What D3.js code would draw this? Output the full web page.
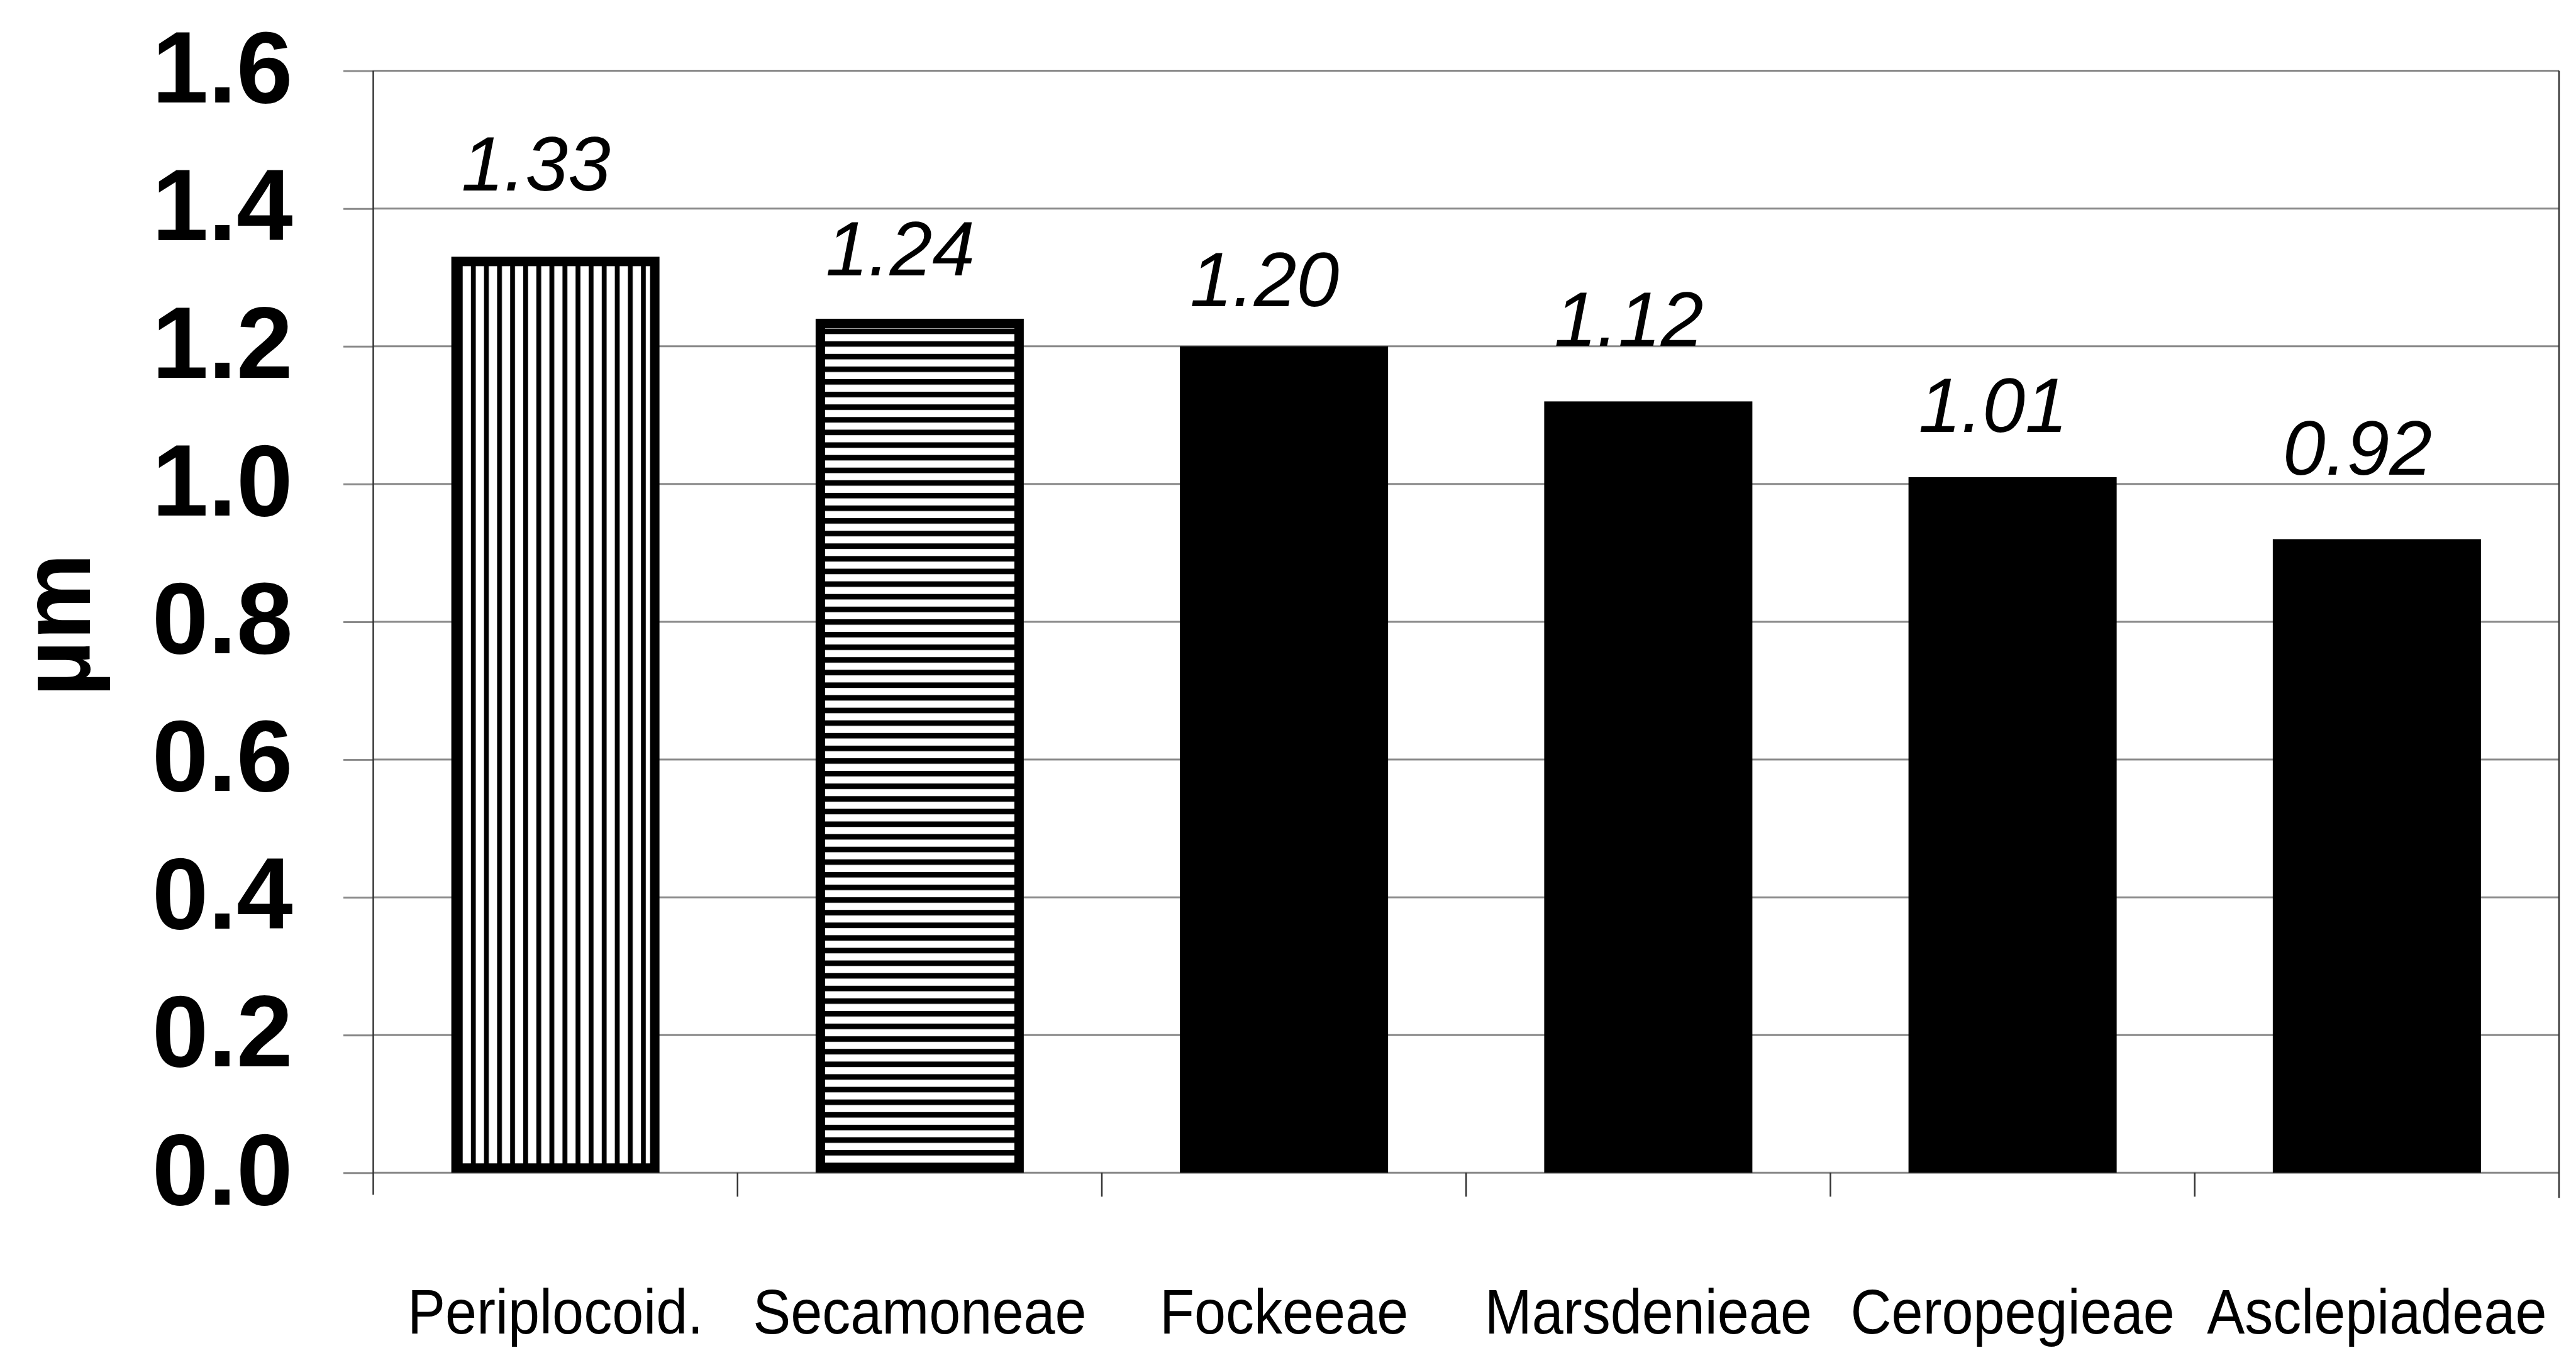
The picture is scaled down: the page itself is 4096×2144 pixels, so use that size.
<!DOCTYPE html>
<html>
<head>
<meta charset="utf-8">
<script src="https://cdn.jsdelivr.net/npm/d3@7"></script>
<style>
  html, body { margin: 0; padding: 0; background: #ffffff; }
  svg { display: block; }
  text { font-family: "Liberation Sans", Arial, Helvetica, sans-serif; fill: #000; }
</style>
</head>
<body>
<svg id="chart"></svg>
<script>
// ---------------- data ----------------
const categories = ["Periplocoid.", "Secamoneae", "Fockeeae", "Marsdenieae", "Ceropegieae", "Asclepiadeae"];
const values = [1.33, 1.24, 1.20, 1.12, 1.01, 0.92];
const valueLabels = ["1.33", "1.24", "1.20", "1.12", "1.01", "0.92"];
const yTicks = [0.0, 0.2, 0.4, 0.6, 0.8, 1.0, 1.2, 1.4, 1.6];
const yTitle = "µm";

// ---------------- layout / style ----------------
const W = 4096, H = 2144;
const plot = { left: 593.5, right: 4069, top: 112.6, bottom: 1865.3 };
const barFills = ["url(#vstripe)", "url(#hstripe)", "#000", "#000", "#000", "#000"];
const barBorder = [15, 15, 0, 0, 0, 0];
const labelGap = [105, 69, 64, 88, 72, 102];   // baseline distance above bar top
const labelShiftX = -31;
const gridColor = "#8a8a8a";
const axisColor = "#333";

const svg = d3.select("#chart").attr("width", W).attr("height", H);
svg.append("rect").attr("width", W).attr("height", H).attr("fill", "#fff");

const defs = svg.append("defs");
const vp = defs.append("pattern").attr("id", "vstripe")
  .attr("patternUnits", "userSpaceOnUse").attr("width", 20.8).attr("height", 10);
vp.append("rect").attr("width", 20.8).attr("height", 10).attr("fill", "#fff");
vp.append("rect").attr("x", 0).attr("width", 7.7).attr("height", 10).attr("fill", "#000");
const hp = defs.append("pattern").attr("id", "hstripe")
  .attr("patternUnits", "userSpaceOnUse").attr("width", 10).attr("height", 20.1);
hp.append("rect").attr("width", 10).attr("height", 20.1).attr("fill", "#fff");
hp.append("rect").attr("y", 0).attr("width", 10).attr("height", 8.8).attr("fill", "#000");

const x = d3.scaleBand().domain(categories)
  .range([plot.left, plot.right])
  .paddingInner(0.75 / 1.75).paddingOuter(0.75 / 3.5);
const y = d3.scaleLinear().domain([0, 1.6]).range([plot.bottom, plot.top]);

// gridlines
svg.append("g").selectAll("line").data(yTicks).join("line")
  .attr("x1", plot.left).attr("x2", plot.right)
  .attr("y1", d => y(d)).attr("y2", d => y(d))
  .attr("stroke", gridColor).attr("stroke-width", 3);

// y axis
const yAxis = d3.axisLeft(y).tickValues(yTicks).tickFormat(d3.format(".1f"))
  .tickSize(47.5).tickPadding(80);
const gy = svg.append("g").attr("transform", `translate(${plot.left},0)`).call(yAxis);
gy.select(".domain").remove();
gy.selectAll(".tick line").attr("stroke", gridColor).attr("stroke-width", 3);
gy.selectAll(".tick text")
  .attr("x", 465.6 - plot.left)
  .attr("dy", null).attr("y", 49.7)
  .attr("text-anchor", "end")
  .style("font-size", "161px").style("font-weight", "bold");
svg.append("line")
  .attr("x1", plot.left).attr("x2", plot.left)
  .attr("y1", plot.top).attr("y2", plot.bottom + 35)
  .attr("stroke", axisColor).attr("stroke-width", 2.5);

// right border of plot area
svg.append("line")
  .attr("x1", plot.right).attr("x2", plot.right)
  .attr("y1", plot.top).attr("y2", plot.bottom + 40)
  .attr("stroke", axisColor).attr("stroke-width", 2.5);

// category boundary ticks
const step = x.step();
const bounds = d3.range(categories.length + 1).map(i => plot.left + i * step);
svg.append("g").selectAll("line").data(bounds.slice(1, -1)).join("line")
  .attr("x1", d => d).attr("x2", d => d)
  .attr("y1", plot.bottom).attr("y2", plot.bottom + 38)
  .attr("stroke", axisColor).attr("stroke-width", 2.5);

// x axis labels
const xAxis = d3.axisBottom(x).tickSize(0).tickPadding(0);
const gx = svg.append("g").attr("transform", `translate(0,${plot.bottom})`).call(xAxis);
gx.select(".domain").remove();
gx.selectAll(".tick text")
  .attr("dy", null).attr("y", 0)
  .attr("transform", "translate(0,256) scale(0.9,1)")
  .style("font-size", "100px");

// bars
const data = categories.map((c, i) => ({ c, v: values[i], i }));
svg.append("g").selectAll("rect").data(data).join("rect")
  .attr("x", d => x(d.c) + barBorder[d.i] / 2)
  .attr("width", d => x.bandwidth() - barBorder[d.i])
  .attr("y", d => y(d.v) + barBorder[d.i] / 2)
  .attr("height", d => y(0) - y(d.v) - barBorder[d.i])
  .attr("fill", d => barFills[d.i])
  .attr("stroke", d => barBorder[d.i] ? "#000" : "none")
  .attr("stroke-width", d => barBorder[d.i]);

// value labels
svg.append("g").selectAll("text").data(data).join("text")
  .attr("x", d => x(d.c) + x.bandwidth() / 2 + labelShiftX)
  .attr("y", d => y(d.v) - labelGap[d.i])
  .attr("text-anchor", "middle")
  .style("font-size", "122px").style("font-style", "italic")
  .text(d => valueLabels[d.i]);

// y title
svg.append("text")
  .attr("transform", `translate(143,994) rotate(-90)`)
  .attr("text-anchor", "middle")
  .style("font-size", "156px").style("font-weight", "bold")
  .text(yTitle);
</script>
</body>
</html>
